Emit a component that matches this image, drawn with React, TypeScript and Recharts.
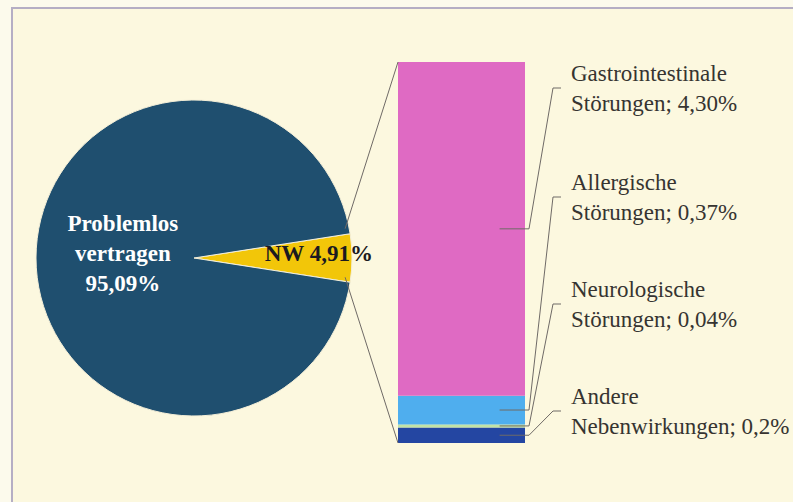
import { PieChart, Pie, Cell, BarChart, Bar, XAxis, YAxis } from 'recharts';

// Main split: side effects (NW) vs. tolerated without problems
const PIE_NAMES = ['NW', 'Problemlos vertragen'];
const PIE_VALUES = [4.91, 95.09];
const PIE_LABELS = [['NW 4,91%'], ['Problemlos', 'vertragen', '95,09%']];
const PIE_COLORS = ['#F2C609', '#1F4F6F'];

// Breakdown of the NW slice, stacked bottom to top
const BAR_KEYS = ['andere', 'neuro', 'allergisch', 'gastro'];
const BAR_VALUES = [0.2, 0.04, 0.37, 4.3];
const BAR_LABELS = [
  ['Andere', 'Nebenwirkungen; 0,2%'],
  ['Neurologische', 'Störungen; 0,04%'],
  ['Allergische', 'Störungen; 0,37%'],
  ['Gastrointestinale', 'Störungen; 4,30%'],
];
const BAR_COLORS = ['#2446A2', '#C2E3A6', '#4FAEEE', '#DF6AC3'];

const W = 793;
const H = 502;
const PIE_CX = 189;
const PIE_CY = 253;
const PIE_R = 158;
const BAR = { left: 398, top: 62, right: 525, bottom: 443 };
const LABEL_X = 571;
const LABEL_ANCHOR_Y = [411, 304, 197, 88];
const TEXT = '#363431';
const LINE = '#6f6a66';
const FONT = '"Liberation Serif", "DejaVu Serif", serif';
const RADIAN = Math.PI / 180;

const pieData = PIE_NAMES.map((name, i) => ({ name, value: PIE_VALUES[i] }));
const nwTotal = BAR_VALUES.reduce((a, b) => a + b, 0);
const barRow: Record<string, number | string> = { name: 'NW' };
BAR_KEYS.forEach((k, i) => (barRow[k] = BAR_VALUES[i]));
const barData = [barRow];

// half-angle of the NW wedge, centred on 3 o'clock
const nwHalf = (PIE_VALUES[0] / (PIE_VALUES[0] + PIE_VALUES[1])) * 180;
const edgeTop = { x: PIE_CX + PIE_R * Math.cos(nwHalf * RADIAN), y: PIE_CY - PIE_R * Math.sin(nwHalf * RADIAN) };
const edgeBottom = { x: edgeTop.x, y: PIE_CY + PIE_R * Math.sin(nwHalf * RADIAN) };

const renderPieLabel = (props: any) => {
  const { cx, cy, midAngle, outerRadius, index } = props;
  const k = index === 0 ? 0.79 : 0.45;
  const x = cx + outerRadius * k * Math.cos(-midAngle * RADIAN);
  const y = cy + outerRadius * k * Math.sin(-midAngle * RADIAN) - 5;
  const lines = PIE_LABELS[index];
  const first = y - ((lines.length - 1) * 30) / 2;
  return (
    <text
      x={x}
      y={first}
      textAnchor="middle"
      dominantBaseline="central"
      fill={index === 0 ? '#1b1a20' : '#ffffff'}
      fontFamily={FONT}
      fontWeight="bold"
      fontSize={23}
    >
      {lines.map((t, j) => (
        <tspan key={j} x={x} y={first + j * 30} dominantBaseline="central">
          {t}
        </tspan>
      ))}
    </text>
  );
};

const renderLeader = (i: number) => (props: any) => {
  const { x, y, width, height } = props;
  const midY = y + height / 2;
  const ay = LABEL_ANCHOR_Y[i];
  const pts = [
    [x + width * 0.8, midY],
    [x + width + 4, midY],
    [LABEL_X - 18, ay],
    [LABEL_X - 10, ay],
  ];
  return (
    <g>
      <polyline points={pts.map((p) => p.join(',')).join(' ')} fill="none" stroke={LINE} strokeWidth={1} />
      {i === BAR_KEYS.length - 1 && (
        <line x1={edgeTop.x} y1={edgeTop.y} x2={x} y2={y} stroke={LINE} strokeWidth={1} />
      )}
      {i === 0 && (
        <line x1={edgeBottom.x} y1={edgeBottom.y} x2={x} y2={y + height} stroke={LINE} strokeWidth={1} />
      )}
      <text fontFamily={FONT} fontSize={23} fill={TEXT}>
        <tspan x={LABEL_X} y={ay - 15} dominantBaseline="central">{BAR_LABELS[i][0]}</tspan>
        <tspan x={LABEL_X} y={ay + 15} dominantBaseline="central">{BAR_LABELS[i][1]}</tspan>
      </text>
    </g>
  );
};

export default function App() {
  return (
    <div style={{ position: 'absolute', left: 0, top: 0, width: W, height: H, background: '#FCFAEC', overflow: 'hidden' }}>
      <div
        style={{
          position: 'absolute',
          left: 11,
          top: 7,
          width: W,
          height: H,
          background: '#FCF8DF',
          borderTop: '2px solid #B5AEC4',
          borderLeft: '2px solid #B5AEC4',
        }}
      />
      <div style={{ position: 'absolute', left: 0, top: 0 }}>
        <PieChart width={W} height={H}>
          <Pie
            data={pieData}
            dataKey="value"
            nameKey="name"
            cx={PIE_CX}
            cy={PIE_CY}
            outerRadius={PIE_R}
            startAngle={-nwHalf}
            endAngle={360 - nwHalf}
            stroke="#F4EFD8"
            strokeWidth={1}
            label={renderPieLabel}
            labelLine={false}
            isAnimationActive={false}
          >
            {pieData.map((d, i) => (
              <Cell key={d.name} fill={PIE_COLORS[i]} />
            ))}
          </Pie>
        </PieChart>
      </div>
      <div style={{ position: 'absolute', left: 0, top: 0 }}>
        <BarChart
          width={W}
          height={H}
          data={barData}
          barCategoryGap={0}
          margin={{ top: BAR.top, bottom: H - BAR.bottom, left: BAR.left, right: W - BAR.right }}
        >
          <XAxis dataKey="name" hide />
          <YAxis type="number" domain={[0, nwTotal]} hide />
          {BAR_KEYS.map((k, i) => (
            <Bar
              key={k}
              dataKey={k}
              stackId="nw"
              fill={BAR_COLORS[i]}
              label={renderLeader(i)}
              isAnimationActive={false}
            />
          ))}
        </BarChart>
      </div>
    </div>
  );
}
